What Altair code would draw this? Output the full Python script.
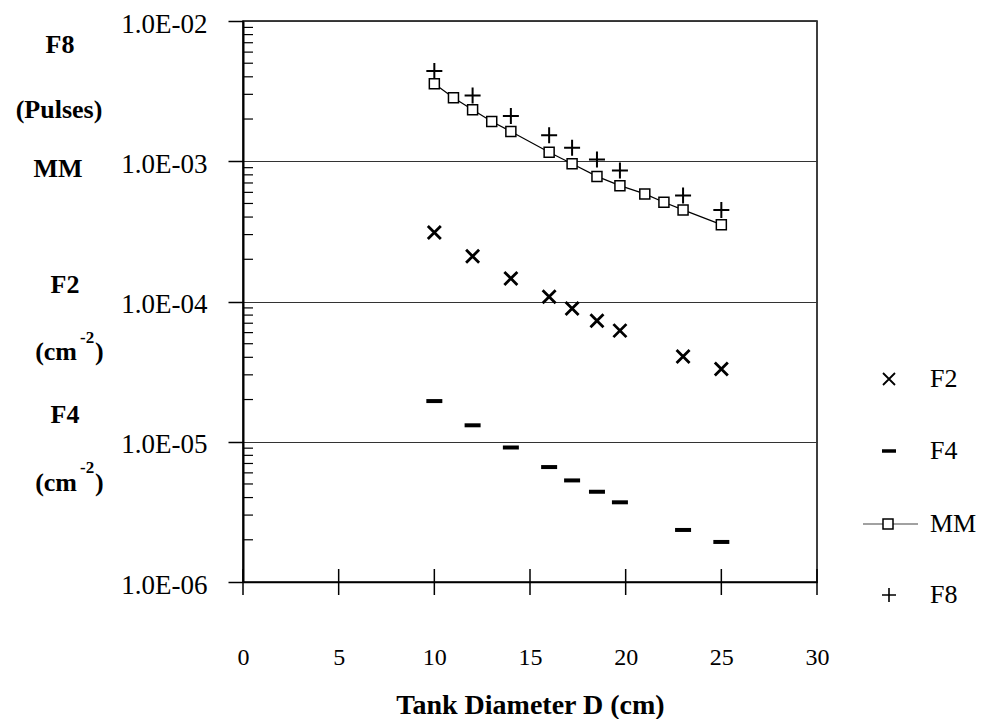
import altair as alt
import pandas as pd

# ---- data ----
diam = [10, 12, 14, 16, 17.2, 18.5, 19.7, 23, 25]
f2 = [3.1e-4, 2.1e-4, 1.46e-4, 1.08e-4, 8.9e-5, 7.3e-5, 6.2e-5, 4.05e-5, 3.3e-5]
f4 = [1.95e-5, 1.31e-5, 9.1e-6, 6.6e-6, 5.3e-6, 4.4e-6, 3.7e-6, 2.35e-6, 1.93e-6]
f8 = [4.4e-3, 2.94e-3, 2.1e-3, 1.53e-3, 1.25e-3, 1.03e-3, 8.6e-4, 5.7e-4, 4.5e-4]
mm_diam = [10, 11, 12, 13, 14, 16, 17.2, 18.5, 19.7, 21, 22, 23, 25]
mm = [3.57e-3, 2.84e-3, 2.33e-3, 1.92e-3, 1.63e-3, 1.16e-3, 9.6e-4, 7.8e-4,
      6.7e-4, 5.85e-4, 5.1e-4, 4.5e-4, 3.53e-4]

x_ticks = [0, 5, 10, 15, 20, 25, 30]
y_ticks = [1e-6, 1e-5, 1e-4, 1e-3, 1e-2]
minor_ticks = [m * 10.0 ** e for e in range(-6, -2) for m in range(2, 10)]
legend_names = ["F2", "F4", "MM", "F8"]
x_title = "Tank Diameter D (cm)"

# ---- layout / style ----
W, H = 574, 561
FONT = "Liberation Serif, Times New Roman, Times, DejaVu Serif, serif"
X_PATH = "M-1,-1L1,1M-1,1L1,-1"
PLUS_PATH = "M-1,0L1,0M0,-1L0,1"
DASH_PATH = "M-1,-0.25L1,-0.25L1,0.25L-1,0.25Z"

xs = alt.Scale(domain=[0, 30], nice=False, zero=False)
ys = alt.Scale(type="log", domain=[1e-6, 1e-2], nice=False)

x_axis = alt.Axis(values=x_ticks, ticks=False, grid=False, labelFont=FONT,
                  labelFontSize=24, labelColor="black", labelPadding=63,
                  labelFlush=False, domainColor="black", domainWidth=1.5,
                  title=x_title, titleFont=FONT, titleFontSize=28,
                  titleFontWeight="bold", titleColor="black", titleY=131,
                  titleBaseline="alphabetic")
y_axis = alt.Axis(values=y_ticks, tickSize=15, tickColor="black", tickWidth=1.5,
                  labelExpr="'1.0E-0' + round(-log(datum.value)/LN10)",
                  labelFont=FONT, labelFontSize=27, labelColor="black",
                  labelPadding=21, labelFlush=False, labelOffset=3,
                  domainColor="black", domainWidth=2, grid=True,
                  gridColor="#333333", gridWidth=1, title=None)

X = lambda f: alt.X(f + ":Q", scale=xs, axis=x_axis)
Y = lambda f: alt.Y(f + ":Q", scale=ys, axis=y_axis)

df_f2 = pd.DataFrame({"D": diam, "v": f2})
df_f4 = pd.DataFrame({"D": diam, "v": f4})
df_f8 = pd.DataFrame({"D": diam, "v": f8})
df_mm = pd.DataFrame({"D": mm_diam, "v": mm})

layers = []
layers.append(alt.Chart(pd.DataFrame({"v": minor_ticks})).mark_rule(
    color="black", strokeWidth=1.2).encode(y=Y("v"), x=alt.value(0), x2=alt.value(10)))
layers.append(alt.Chart(pd.DataFrame({"t": x_ticks})).mark_rule(
    color="black", strokeWidth=1.5).encode(x=X("t"), y=alt.value(H - 13), y2=alt.value(H + 13)))

layers.append(alt.Chart(df_mm).mark_line(color="black", strokeWidth=1.2).encode(x=X("D"), y=Y("v")))
layers.append(alt.Chart(df_mm).mark_point(shape="square", size=100, filled=True, fill="white",
                                          stroke="black", strokeWidth=1.5, opacity=1)
              .encode(x=X("D"), y=Y("v")))
layers.append(alt.Chart(df_f8).mark_point(shape=PLUS_PATH, size=256, stroke="black",
                                          strokeWidth=2, opacity=1).encode(x=X("D"), y=Y("v")))
layers.append(alt.Chart(df_f2).mark_point(shape=X_PATH, size=169, stroke="black",
                                          strokeWidth=2.8, opacity=1).encode(x=X("D"), y=Y("v")))
layers.append(alt.Chart(df_f4).mark_point(shape=DASH_PATH, size=256, filled=True, fill="black",
                                          strokeWidth=0, opacity=1).encode(x=X("D"), y=Y("v")))

# ---- left-hand labels (bold) ----
def label(txt, x, y, size=26, align="center", weight="bold"):
    return alt.Chart(pd.DataFrame({"t": [txt]})).mark_text(
        font=FONT, fontSize=size, fontWeight=weight, color="black",
        align=align, baseline="alphabetic").encode(
        text="t:N", x=alt.value(x), y=alt.value(y))

layers += [
    label("F8", -183, 32),
    label("(Pulses)", -184, 97),
    label("MM", -185, 156),
    label("F2", -178, 272),
    label("(cm", -166, 339, align="right"),
    label("-2", -163, 322, size=17, align="left"),
    label(")", -148, 339, align="left"),
    label("F4", -178, 402),
    label("(cm", -166, 470, align="right"),
    label("-2", -163, 452, size=17, align="left"),
    label(")", -148, 470, align="left"),
]

# ---- legend ----
leg_y = [358, 430, 503, 574]
sym_x = 646
txt_x = 687
one = pd.DataFrame({"k": [0]})
layers.append(alt.Chart(one).mark_point(shape=X_PATH, size=144, stroke="black", strokeWidth=1.8,
                                        opacity=1).encode(x=alt.value(sym_x), y=alt.value(leg_y[0])))
layers.append(alt.Chart(one).mark_point(shape=DASH_PATH, size=196, filled=True, fill="black",
                                        strokeWidth=0, opacity=1).encode(x=alt.value(sym_x), y=alt.value(leg_y[1])))
layers.append(alt.Chart(one).mark_rule(color="#444444", strokeWidth=1.2).encode(
    x=alt.value(620), x2=alt.value(675), y=alt.value(leg_y[2])))
layers.append(alt.Chart(one).mark_point(shape="square", size=100, filled=True, fill="white",
                                        stroke="black", strokeWidth=1.5, opacity=1)
              .encode(x=alt.value(sym_x - 1), y=alt.value(leg_y[2])))
layers.append(alt.Chart(one).mark_point(shape=PLUS_PATH, size=196, stroke="black", strokeWidth=1.6,
                                        opacity=1).encode(x=alt.value(sym_x), y=alt.value(leg_y[3])))
for name, yy in zip(legend_names, leg_y):
    layers.append(alt.Chart(pd.DataFrame({"t": [name]})).mark_text(
        font=FONT, fontSize=26, color="black", align="left", baseline="middle").encode(
        text="t:N", x=alt.value(txt_x), y=alt.value(yy)))

chart = alt.layer(*layers).properties(
    width=W, height=H,
    autosize=alt.AutoSizeParams(type="none"),
    padding={"left": 235, "top": 13, "right": 163, "bottom": 139},
    background="white",
).configure_view(stroke="black", strokeWidth=1.5)

chart.save("out.html", embed_options={"renderer": "svg", "actions": False})
